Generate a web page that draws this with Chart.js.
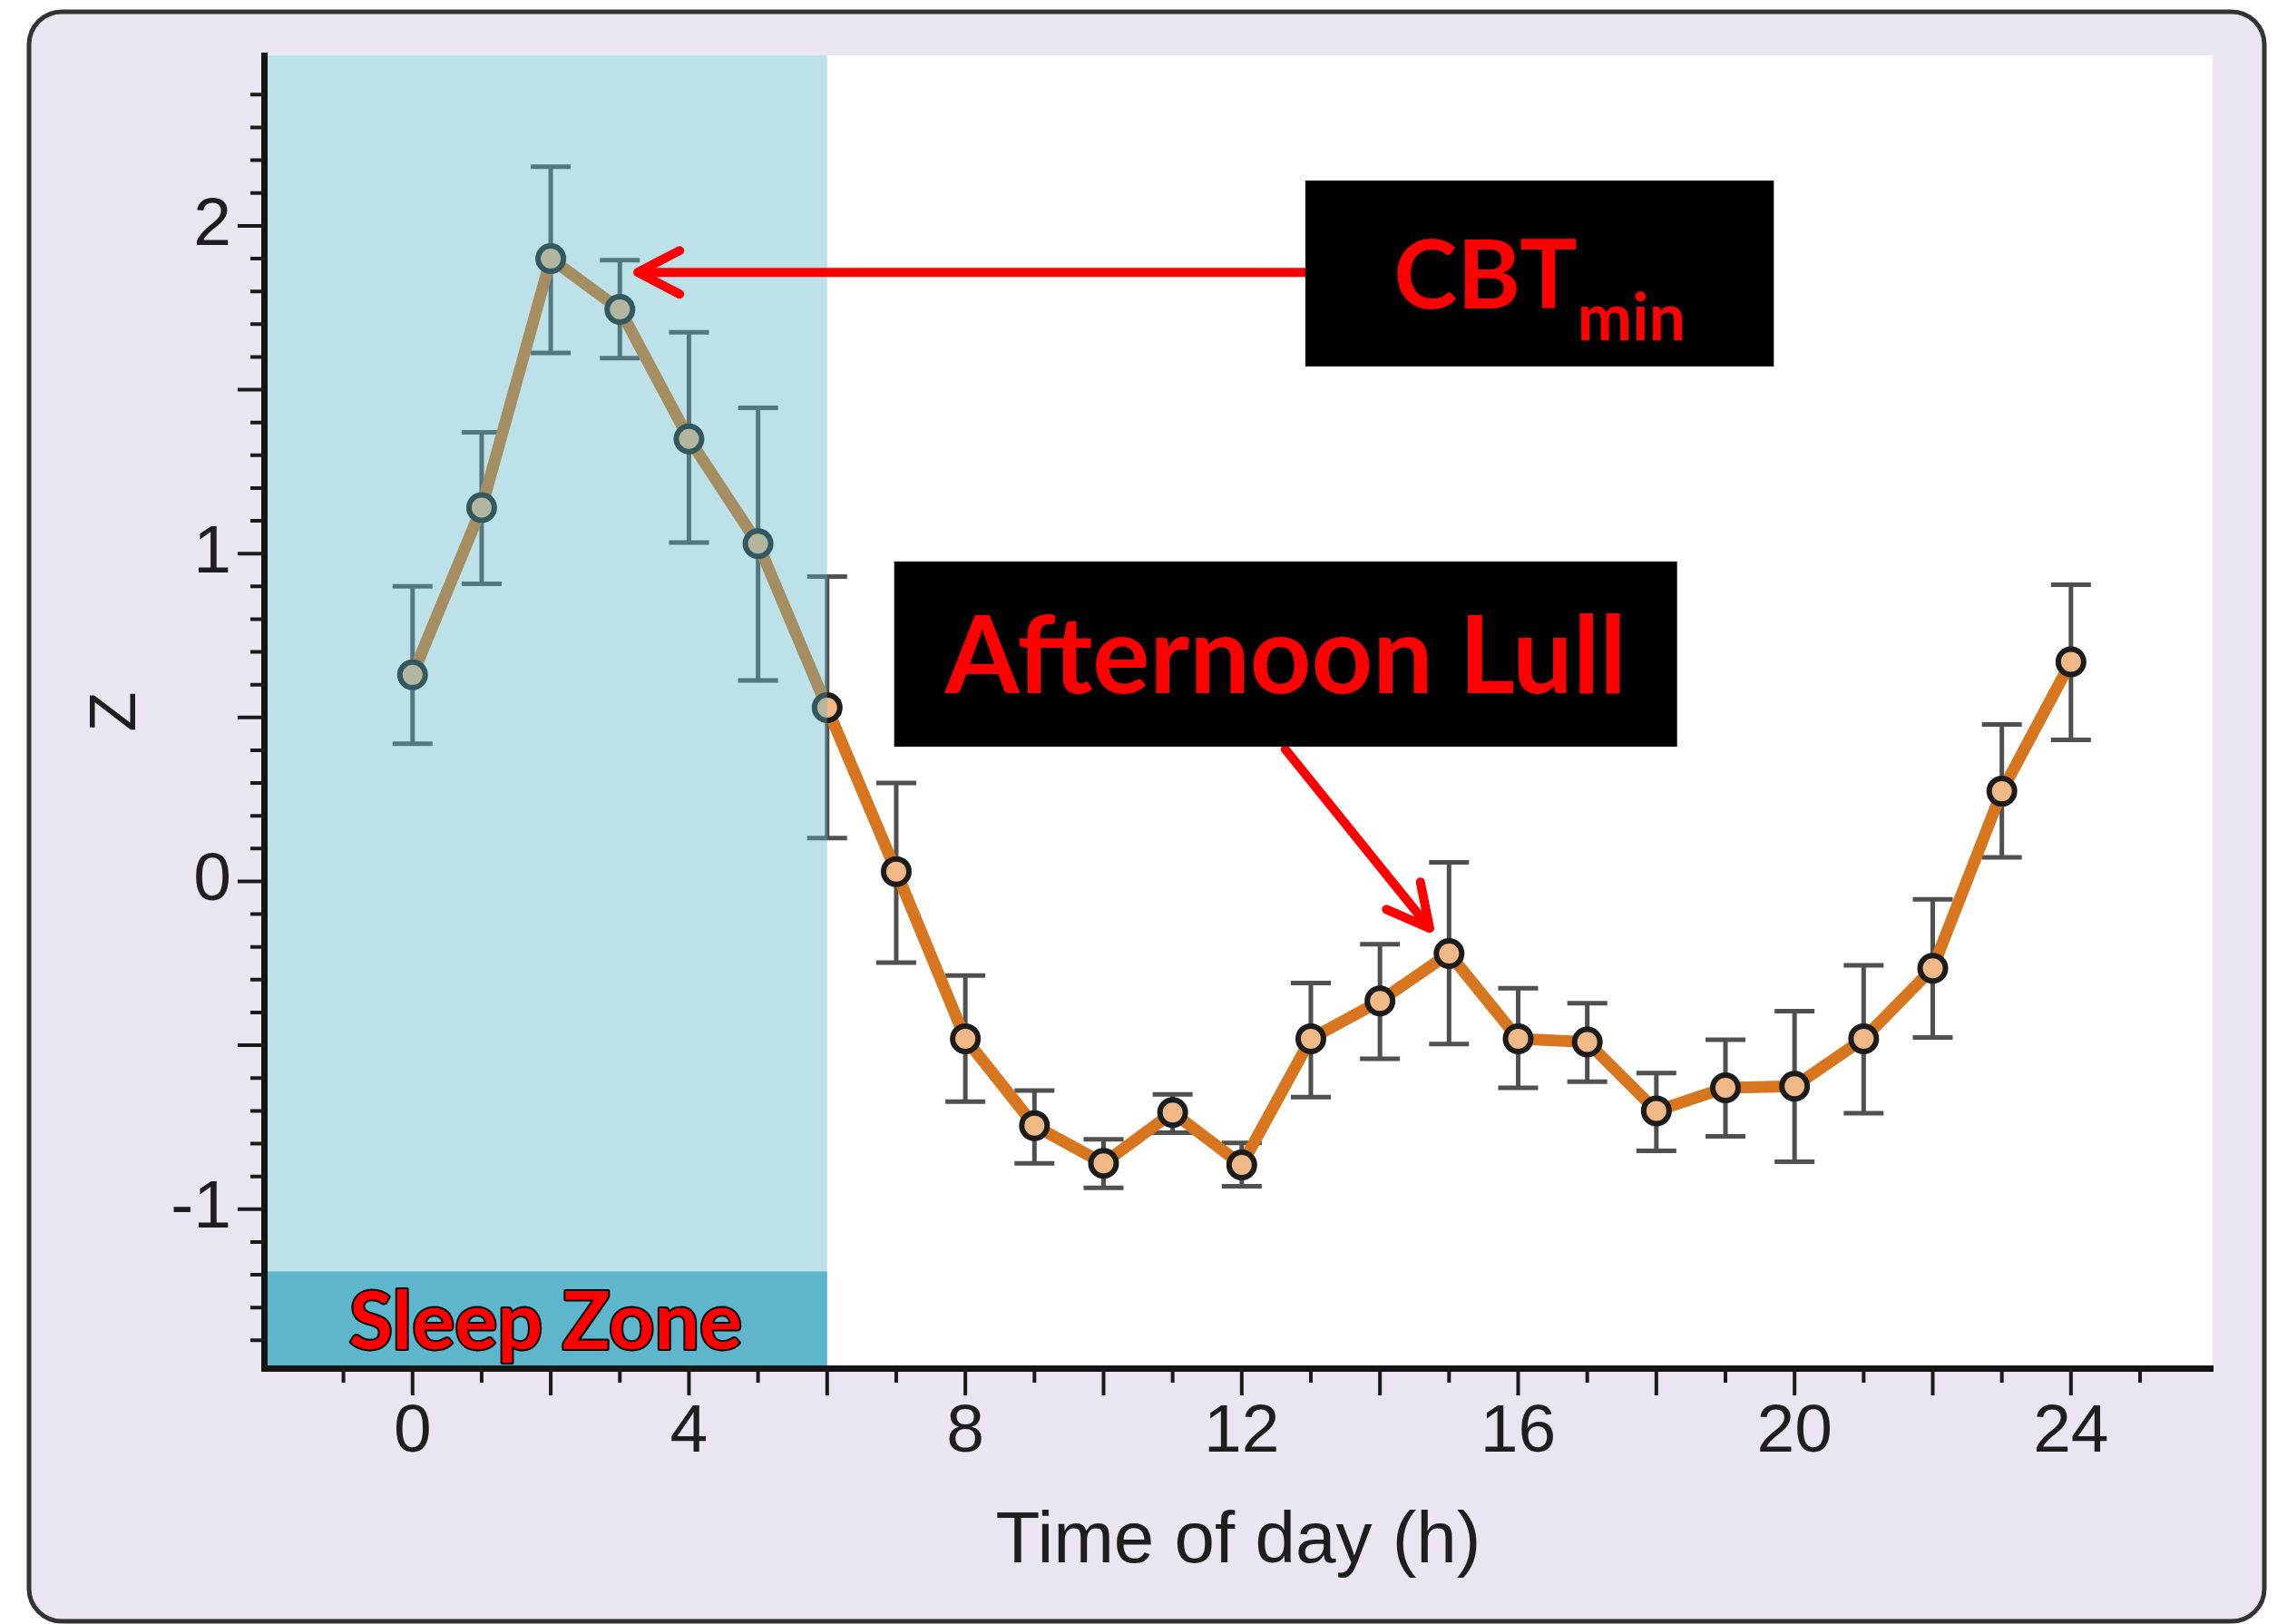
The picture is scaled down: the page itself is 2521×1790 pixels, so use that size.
<!DOCTYPE html>
<html>
<head>
<meta charset="utf-8">
<title>Z by time of day</title>
<script src="https://cdn.jsdelivr.net/npm/chart.js@4/dist/chart.umd.min.js"></script>
<style>
  html, body { margin: 0; padding: 0; background: #fff; }
  #wrap { width: 2521px; height: 1790px; }
</style>
</head>
<body>
<div id="wrap"><canvas id="zChart" width="2521" height="1790"></canvas></div>
<script>
// hourly means with upper / lower error limits
const hours  = [0, 1, 2, 3, 4, 5, 6, 7, 8, 9, 10, 11, 12, 13, 14, 15, 16, 17, 18, 19, 20, 21, 22, 23, 24];
const zMean  = [0.63, 1.14, 1.90, 1.745, 1.35, 1.03, 0.53, 0.03, -0.48, -0.745, -0.86, -0.705, -0.865, -0.48, -0.365, -0.22, -0.48, -0.49, -0.70, -0.63, -0.625, -0.48, -0.265, 0.275, 0.67];
const zUpper = [0.90, 1.37, 2.18, 1.895, 1.675, 1.445, 0.93, 0.30, -0.287, -0.638, -0.787, -0.65, -0.798, -0.31, -0.192, 0.058, -0.326, -0.372, -0.585, -0.483, -0.396, -0.256, -0.055, 0.479, 0.905];
const zLower = [0.42, 0.908, 1.612, 1.596, 1.034, 0.613, 0.132, -0.248, -0.672, -0.86, -0.935, -0.767, -0.93, -0.658, -0.541, -0.496, -0.63, -0.611, -0.822, -0.778, -0.855, -0.707, -0.476, 0.073, 0.432];

const xTicks = [0, 4, 8, 12, 16, 20, 24];
const yTicks = [-1, 0, 1, 2];
const sleepEnd = 6;

const RED = '#ff0000';
const axisFont = 'Liberation Sans';
const noteFont = 'Lato';

// lavender card with rounded border, white plot area
const frame = {
  id: 'frame',
  beforeDraw(chart) {
    const {ctx, chartArea: a} = chart;
    ctx.save();
    ctx.fillStyle = '#fff';
    ctx.fillRect(0, 0, chart.width, chart.height);
    ctx.beginPath();
    ctx.roundRect(32, 13, 2464, 1774, 36);
    ctx.fillStyle = '#ebe5f2';
    ctx.fill();
    ctx.lineWidth = 5;
    ctx.strokeStyle = '#333';
    ctx.stroke();
    ctx.fillStyle = '#fff';
    ctx.fillRect(a.left, a.top, a.right - a.left, a.bottom - a.top);
    ctx.restore();
  }
};

// vertical error bars with caps, behind the line
const errorBars = {
  id: 'errorBars',
  beforeDatasetsDraw(chart) {
    const {ctx, scales: {x, y}} = chart;
    const cap = 22;
    ctx.save();
    ctx.strokeStyle = '#505050';
    ctx.lineWidth = 5;
    hours.forEach((h, i) => {
      const px = x.getPixelForValue(h);
      const top = y.getPixelForValue(zUpper[i]);
      const bot = y.getPixelForValue(zLower[i]);
      ctx.beginPath();
      ctx.moveTo(px, top); ctx.lineTo(px, bot);
      ctx.moveTo(px - cap, top); ctx.lineTo(px + cap, top);
      ctx.moveTo(px - cap, bot); ctx.lineTo(px + cap, bot);
      ctx.stroke();
    });
    ctx.restore();
  }
};

// translucent sleep shading over the data, solid label strip at the bottom
const sleepZone = {
  id: 'sleepZone',
  afterDatasetsDraw(chart) {
    const {ctx, chartArea: a, scales: {x, y}} = chart;
    const right = x.getPixelForValue(sleepEnd);
    ctx.save();
    ctx.fillStyle = 'rgba(90, 180, 198, 0.4)';
    ctx.fillRect(a.left, a.top, right - a.left, a.bottom - a.top);

    const stripTop = y.getPixelForValue(-1.19);
    ctx.fillStyle = '#5db6cc';
    ctx.fillRect(a.left, stripTop, right - a.left, a.bottom - stripTop);

    ctx.font = `bold 88px ${noteFont}`;
    ctx.textAlign = 'center';
    ctx.textBaseline = 'alphabetic';
    ctx.lineJoin = 'round';
    ctx.lineWidth = 4;
    ctx.strokeStyle = '#000';
    const cx = (a.left + right) / 2;
    ctx.strokeText('Sleep Zone', cx, a.bottom - 21);
    ctx.fillStyle = RED;
    ctx.fillText('Sleep Zone', cx, a.bottom - 21);
    ctx.restore();
  }
};

// minor tick marks: hours on x, tenths on y
const minorTicks = {
  id: 'minorTicks',
  afterDraw(chart) {
    const {ctx, chartArea: a, scales: {x, y}} = chart;
    ctx.save();
    ctx.strokeStyle = '#1a1a1a';
    ctx.lineWidth = 4;
    ctx.beginPath();
    for (let h = -1; h <= 25; h++) {
      const px = x.getPixelForValue(h);
      const len = h % 2 === 0 ? 30 : 16;
      ctx.moveTo(px, a.bottom); ctx.lineTo(px, a.bottom + len);
    }
    for (let k = -14; k <= 24; k++) {
      const py = y.getPixelForValue(k / 10);
      const len = k % 5 === 0 ? 29 : 15;
      ctx.moveTo(a.left, py); ctx.lineTo(a.left - len, py);
    }
    ctx.stroke();
    ctx.restore();
  }
};

// callout boxes and arrows, placed in data units
const cbtBox  = {x0: 12.92, x1: 19.70, y0: 2.138, y1: 1.571};
const lullBox = {x0: 6.97, x1: 18.30, y0: 0.976, y1: 0.411};
const cbtArrow  = {x0: 12.92, y0: 1.858, x1: 3.26, y1: 1.858};
const lullArrow = {x0: 12.63, y0: 0.403, x1: 14.72, y1: -0.143};

function drawArrow(ctx, x0, y0, x1, y1) {
  const ang = Math.atan2(y1 - y0, x1 - x0);
  const len = 52, spread = 0.48;
  ctx.beginPath();
  ctx.moveTo(x0, y0); ctx.lineTo(x1, y1);
  ctx.moveTo(x1 - len * Math.cos(ang - spread), y1 - len * Math.sin(ang - spread));
  ctx.lineTo(x1, y1);
  ctx.lineTo(x1 - len * Math.cos(ang + spread), y1 - len * Math.sin(ang + spread));
  ctx.stroke();
}

const callouts = {
  id: 'callouts',
  afterDraw(chart) {
    const {ctx, scales: {x, y}} = chart;
    const px = v => x.getPixelForValue(v);
    const py = v => y.getPixelForValue(v);
    ctx.save();

    ctx.strokeStyle = RED;
    ctx.lineWidth = 10;
    ctx.lineCap = 'round';
    ctx.lineJoin = 'round';
    [cbtArrow, lullArrow].forEach(r => drawArrow(ctx, px(r.x0), py(r.y0), px(r.x1), py(r.y1)));

    ctx.fillStyle = '#000';
    [cbtBox, lullBox].forEach(b => {
      ctx.fillRect(px(b.x0), py(b.y0), px(b.x1) - px(b.x0), py(b.y1) - py(b.y0));
    });

    // CBT with "min" subscript
    const top1 = py(cbtBox.y0), h1 = py(cbtBox.y1) - top1;
    const mid1 = (px(cbtBox.x0) + px(cbtBox.x1)) / 2;
    const bigFont = `bold 106px ${noteFont}`, subFont = `bold 72px ${noteFont}`;
    ctx.font = bigFont;
    const wBig = ctx.measureText('CBT').width;
    ctx.font = subFont;
    const wSub = ctx.measureText('min').width;
    const start = mid1 - (wBig + wSub) / 2;
    ctx.fillStyle = RED;
    ctx.textAlign = 'left';
    ctx.textBaseline = 'alphabetic';
    ctx.font = bigFont;
    ctx.fillText('CBT', start, top1 + h1 * 0.69);
    ctx.font = subFont;
    ctx.fillText('min', start + wBig, top1 + h1 * 0.86);

    const top2 = py(lullBox.y0), h2 = py(lullBox.y1) - top2;
    ctx.font = `bold 118px ${noteFont}`;
    ctx.textAlign = 'center';
    ctx.fillText('Afternoon Lull', (px(lullBox.x0) + px(lullBox.x1)) / 2, top2 + h2 * 0.71);
    ctx.restore();
  }
};

new Chart(document.getElementById('zChart'), {
  type: 'line',
  data: {
    datasets: [{
      data: hours.map((h, i) => ({x: h, y: zMean[i]})),
      borderColor: '#d8761f',
      borderWidth: 13,
      tension: 0,
      pointRadius: 14,
      pointBorderWidth: 6,
      pointBackgroundColor: '#efb886',
      pointBorderColor: '#1c1c1c'
    }]
  },
  options: {
    responsive: false,
    animation: false,
    events: [],
    layout: { padding: { left: 0, top: 61, right: 82, bottom: 0 } },
    plugins: { legend: { display: false }, tooltip: { enabled: false } },
    scales: {
      x: {
        type: 'linear',
        min: -2.15,
        max: 26.05,
        afterBuildTicks: s => { s.ticks = xTicks.map(v => ({value: v})); },
        afterFit: s => { s.height = 282; s.paddingLeft = 0; s.paddingRight = 0; },
        grid: { drawOnChartArea: false, drawTicks: false },
        border: { color: '#151515', width: 7, z: 1 },
        ticks: {
          padding: 26, color: '#1e1e1e', autoSkip: false, maxRotation: 0,
          font: { family: axisFont, size: 75 },
          callback: v => String(v)
        },
        title: {
          display: true, text: 'Time of day (h)', color: '#1e1e1e',
          font: { family: axisFont, size: 80 },
          padding: { top: 0, bottom: 42 }
        }
      },
      y: {
        type: 'linear',
        min: -1.485,
        max: 2.52,
        afterBuildTicks: s => { s.ticks = yTicks.map(v => ({value: v})); },
        afterFit: s => { s.width = 291; s.paddingTop = 0; s.paddingBottom = 0; },
        grid: { drawOnChartArea: false, drawTicks: false },
        border: { color: '#151515', width: 7, z: 1 },
        ticks: {
          padding: 36, color: '#1e1e1e',
          font: { family: axisFont, size: 75 },
          callback: v => String(v)
        },
        title: {
          display: true, text: 'Z', color: '#1e1e1e',
          font: { family: axisFont, size: 72 },
          padding: { top: 86, bottom: 0 }
        }
      }
    }
  },
  plugins: [frame, errorBars, sleepZone, minorTicks, callouts]
});
</script>
</body>
</html>
